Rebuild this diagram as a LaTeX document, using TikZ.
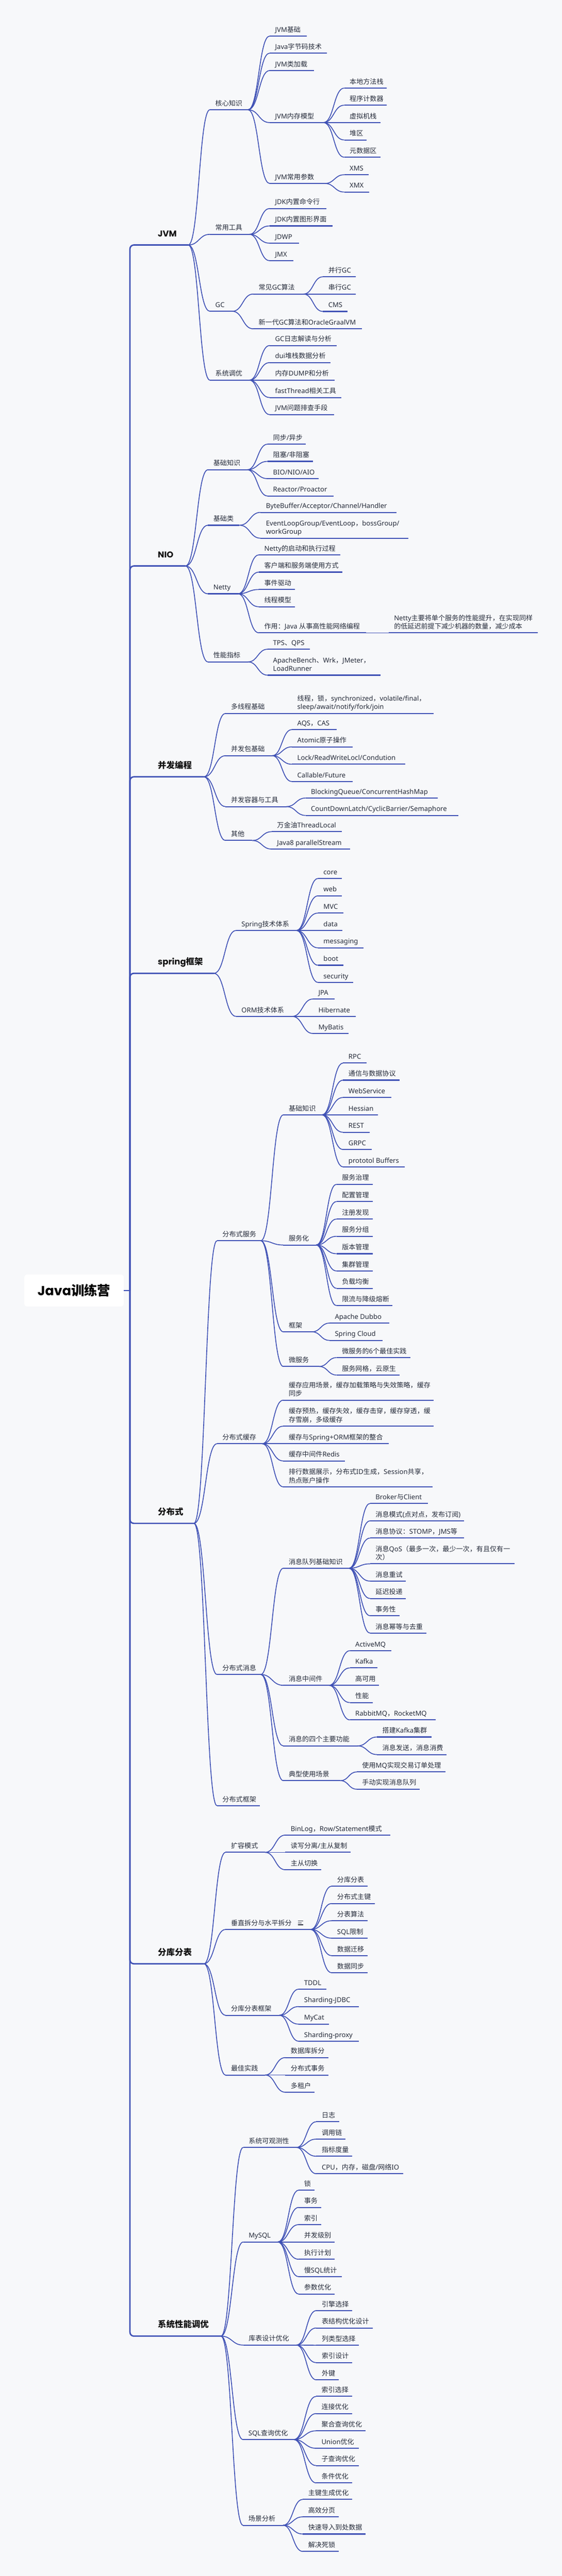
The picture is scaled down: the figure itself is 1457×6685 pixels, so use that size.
\documentclass[tikz,border=0pt]{standalone}
\usepackage{fontspec}
\setmainfont{Noto Sans}
\newfontfamily\cjkf{Noto Sans CJK SC}
\newfontfamily\popf{Poppins}
\newXeTeXintercharclass\MyCJK
\newcount\MyCnt
\MyCnt="3000 \loop \XeTeXcharclass\MyCnt=\MyCJK \advance\MyCnt by 1 \ifnum\MyCnt<"3040 \repeat
\MyCnt="4E00 \loop \XeTeXcharclass\MyCnt=\MyCJK \advance\MyCnt by 1 \ifnum\MyCnt<"A000 \repeat
\MyCnt="FF00 \loop \XeTeXcharclass\MyCnt=\MyCJK \advance\MyCnt by 1 \ifnum\MyCnt<"FFF0 \repeat
\XeTeXinterchartoks 0 \MyCJK = {\cjkf}
\XeTeXinterchartoks 4095 \MyCJK = {\cjkf}
\XeTeXinterchartoks \MyCJK 0 = {\rmfamily}
\XeTeXinterchartoks \MyCJK 4095 = {\rmfamily}
\XeTeXinterchartokenstate=1
\usetikzlibrary{calc}
\definecolor{lc}{HTML}{3F51B5}
\definecolor{tc}{HTML}{252B3A}
\definecolor{tm}{HTML}{111111}
\definecolor{bg}{HTML}{F7F8FA}
\tikzset{
  uline/.style={draw=lc, line width=2.8bp},
  mline/.style={draw=lc, line width=3.6bp},
  conn/.style={draw=lc, line width=2.2bp},
  txt/.style={anchor=base west, inner sep=0pt, text=tc, font=\fontsize{17.5bp}{22bp}\selectfont},
  mtxt/.style={anchor=base west, inner sep=0pt, text=tm, font=\fontsize{22bp}{26bp}\selectfont\bfseries},
  rootbox/.style={fill=white, rounded corners=8bp, minimum width=258bp, minimum height=83bp, inner sep=0pt, text=black, font=\fontsize{34bp}{38bp}\selectfont\bfseries},
}
\newcommand{\MNode}[5]{%
  \coordinate (#1-s) at ({#2-14},{#3});
  \coordinate (#1-e) at ({#4},{#3});
  \draw[uline] (#1-s) -- (#1-e);
  \node[txt] (#1) at ({#2},{#3-10.5}) {#5};}
\newcommand{\MNodeTwo}[6]{%
  \coordinate (#1-s) at ({#2-14},{#3});
  \coordinate (#1-e) at ({#4},{#3});
  \draw[uline] (#1-s) -- (#1-e);
  \node[txt] (#1) at ({#2},{#3-32.5}) {#5};
  \node[txt] (#1-b) at ({#2},{#3-10.5}) {#6};}
\newcommand{\MMain}[4]{%
  \coordinate (#1-s) at (337,{#2});
  \coordinate (#1-e) at ({#3},{#2});
  \draw[mline,rounded corners=10bp] (trunk) -- (#1-s) -- (#1-e);
  \node[mtxt] (#1) at (409.2,{#2-22}) {#4};}
\newcommand{\MConn}[2]{%
  \draw[conn] let \p1=(#1-e), \p2=(#2-s) in (\p1) .. controls ({0.5*\x1+0.5*\x2},\y1) and ({0.5*\x1+0.5*\x2},\y2) .. (\p2);}
\newcommand{\MConns}[2]{\foreach \MC in {#2} {\MConn{#1}{\MC}}}
\begin{document}
\begin{tikzpicture}[x=1bp,y=-1bp]
\fill[bg] (0,0) rectangle (1457,6685);
\useasboundingbox (0,0) rectangle (1457,6685);
% root
\node[rootbox] (root) at (192,3349) {{\popf Java}训练营};
\coordinate (trunk) at (337,3349);
\draw[mline] (root.east) -- (trunk);

% ================= JVM
\MMain{jvm}{635.8}{488.2}{{\popf JVM}}
\MNode{hx}{558.3}{284.8}{643.1}{核心知识}
\MNode{cy}{558.3}{608.1}{646.8}{常用工具}
\MNode{gc}{558.3}{807.8}{602.5}{GC}
\MNode{xtdy}{558.3}{986.5}{646.8}{系统调优}
\MConns{jvm}{hx,cy,gc,xtdy}
\MNode{jb}{713.2}{93.6}{795.9}{JVM基础}
\MNode{jz}{713.2}{138.0}{848.2}{Java字节码技术}
\MNode{jl}{713.2}{183.1}{813.6}{JVM类加载}
\MNode{jn}{713.2}{318.1}{838.7}{JVM内存模型}
\MNode{jc}{713.2}{476.1}{842.3}{JVM常用参数}
\MConns{hx}{jb,jz,jl,jn,jc}
\MNode{bd}{906.5}{228.6}{1003.2}{本地方法栈}
\MNode{cxjs}{906.5}{273.0}{1003.2}{程序计数器}
\MNode{xnjz}{906.5}{318.1}{986.2}{虚拟机栈}
\MNode{dq}{906.5}{363.2}{950.8}{堆区}
\MNode{ysj}{906.5}{408.0}{986.2}{元数据区}
\MConns{jn}{bd,cxjs,xnjz,dq,ysj}
\MNode{xms}{906.5}{453.5}{956.0}{XMS}
\MNode{xmx}{906.5}{498.3}{956.7}{XMX}
\MConns{jc}{xms,xmx}
\MNode{jdka}{713.2}{541.2}{846.0}{JDK内置命令行}
\MNode{jdkb}{713.2}{586.3}{863.0}{JDK内置图形界面}
\MNode{jdwp}{713.2}{631.0}{775.9}{JDWP}
\MNode{jmx}{713.2}{676.5}{761.2}{JMX}
\MConns{cy}{jdka,jdkb,jdwp,jmx}
\MNode{cjgc}{670.4}{763.1}{787.0}{常见GC算法}
\MNode{xyd}{670.4}{853.3}{939.0}{新一代GC算法和OracleGraalVM}
\MConns{gc}{cjgc,xyd}
\MNode{bxgc}{851.2}{718.3}{922.0}{并行GC}
\MNode{cxgc}{851.2}{763.1}{922.0}{串行GC}
\MNode{cms}{851.2}{808.2}{901.4}{CMS}
\MConns{cjgc}{bxgc,cxgc,cms}
\MNode{gcrz}{713.2}{896.6}{872.6}{GC日志解读与分析}
\MNode{dui}{713.2}{941.0}{857.1}{dui堆栈数据分析}
\MNode{dump}{713.2}{986.5}{867.4}{内存DUMP和分析}
\MNode{fast}{713.2}{1031.6}{885.1}{fastThread相关工具}
\MNode{jvmw}{713.2}{1076.0}{866.0}{JVM问题排查手段}
\MConns{xtdy}{gcrz,dui,dump,fast,jvmw}

% ================= NIO
\MMain{nio}{1468.8}{480.8}{{\popf NIO}}
\MNode{jczs}{553.1}{1219.1}{640.9}{基础知识}
\MNode{jcl}{553.1}{1363.0}{621.0}{基础类}
\MNode{netty}{553.1}{1540.9}{617.3}{Netty}
\MNode{xnzb}{553.1}{1717.7}{643.1}{性能指标}
\MConns{nio}{jczs,jcl,netty,xnzb}
\MNode{tb}{708}{1152.6}{792.9}{同步/异步}
\MNode{zs}{708}{1197.3}{811.4}{阻塞/非阻塞}
\MNode{bio}{708}{1242.1}{826.1}{BIO/NIO/AIO}
\MNode{reac}{708}{1287.2}{864.5}{Reactor/Proactor}
\MConns{jczs}{tb,zs,bio,reac}
\MNode{bbuf}{689.6}{1329.7}{1027.5}{ByteBuffer/Acceptor/Channel/Handler}
\MNodeTwo{elg}{689.6}{1396.7}{1058.5}{EventLoopGroup/EventLoop，bossGroup/}{workGroup}
\MConns{jcl}{bbuf,elg}
\MNode{nqd}{685.2}{1440.0}{882.2}{Netty的启动和执行过程}
\MNode{khd}{685.2}{1484.7}{887.4}{客户端和服务端使用方式}
\MNode{sjqd}{685.2}{1529.9}{764.1}{事件驱动}
\MNode{xcmx}{685.2}{1574.6}{764.1}{线程模型}
\MNode{zy}{685.2}{1642.3}{949.0}{作用：Java 从事高性能网络编程}
\MConns{netty}{nqd,khd,sjqd,xcmx,zy}
\MNodeTwo{nzy}{1021.6}{1642.3}{1394.3}{Netty主要将单个服务的性能提升，在实现同样}{的低延迟前提下减少机器的数量，减少成本}
\MConn{zy}{nzy}
\MNode{tps}{708}{1684.8}{804.0}{TPS、QPS}
\MNodeTwo{ab}{708}{1752.1}{986.2}{ApacheBench、Wrk，JMeter，}{LoadRunner}
\MConns{xnzb}{tps,ab}

% ================= 并发编程
\MMain{bf}{2015.9}{528.7}{并发编程}
\MNode{dxc}{598.8}{1851.3}{700.0}{多线程基础}
\MNode{bfb}{598.8}{1961.1}{705.8}{并发包基础}
\MNode{bfrq}{598.8}{2093.2}{742.7}{并发容器与工具}
\MNode{qt}{598.8}{2181.2}{654.2}{其他}
\MConns{bf}{dxc,bfb,bfrq,qt}
\MNodeTwo{xcs}{770.8}{1851.3}{1124.2}{线程，锁，synchronized，volatile/final，}{sleep/await/notify/fork/join}
\MConn{dxc}{xcs}
\MNode{aqs}{770.8}{1893.4}{872.6}{AQS，CAS}
\MNode{atom}{770.8}{1938.2}{913.9}{Atomic原子操作}
\MNode{lock}{770.8}{1983.3}{1051.2}{Lock/ReadWriteLocl/Condution}
\MNode{call}{770.8}{2028.1}{913.9}{Callable/Future}
\MConns{bfb}{aqs,atom,lock,call}
\MNode{bq}{806.2}{2071.0}{1134.6}{BlockingQueue/ConcurrentHashMap}
\MNode{cdl}{806.2}{2116.1}{1188.4}{CountDownLatch/CyclicBarrier/Semaphore}
\MConns{bfrq}{bq,cdl}
\MNode{tl}{718.4}{2158.3}{886.6}{万金油ThreadLocal}
\MNode{ps}{718.4}{2203.4}{908.0}{Java8 parallelStream}
\MConns{qt}{tl,ps}

% ================= spring
\MMain{spr}{2525.9}{554.6}{{\popf spring}框架}
\MNode{sjs}{626.1}{2414.6}{768.6}{Spring技术体系}
\MNode{orm}{626.1}{2637.7}{757.5}{ORM技术体系}
\MConns{spr}{sjs,orm}
\MNode{score}{838.7}{2279.6}{886.6}{core}
\MNode{sweb}{838.7}{2324.7}{886.6}{web}
\MNode{smvc}{838.7}{2369.5}{890.3}{MVC}
\MNode{sdata}{838.7}{2414.6}{888.1}{data}
\MNode{smsg}{838.7}{2459.7}{942.0}{messaging}
\MNode{sboot}{838.7}{2504.9}{890.3}{boot}
\MNode{ssec}{838.7}{2549.6}{916.1}{security}
\MConns{sjs}{score,sweb,smvc,sdata,smsg,sboot,ssec}
\MNode{jpa}{825.4}{2592.5}{867.4}{JPA}
\MNode{hib}{825.4}{2637.7}{922.8}{Hibernate}
\MNode{myb}{825.4}{2682.0}{903.6}{MyBatis}
\MConns{orm}{jpa,hib,myb}

% ================= 分布式
\MMain{fbs}{3953.3}{502.9}{分布式}
\MNode{fwf}{576.7}{3219.8}{676.3}{分布式服务}
\MNode{fhc}{576.7}{3746.6}{680.0}{分布式缓存}
\MNode{fxx}{576.7}{4345.4}{676.3}{分布式消息}
\MNode{fkj}{576.7}{4686.0}{673.4}{分布式框架}
\MConns{fbs}{fwf,fhc,fxx,fkj}
\MNode{fjc}{748.6}{2893.2}{835.0}{基础知识}
\MNode{fwh}{748.6}{3230.9}{820.2}{服务化}
\MNode{fkj2}{748.6}{3456.2}{809.1}{框架}
\MNode{wfw}{748.6}{3546.1}{827.6}{微服务}
\MConns{fwf}{fjc,fwh,fkj2,wfw}
\MNode{rpc}{903.6}{2758.6}{950.8}{RPC}
\MNode{txxy}{903.6}{2803.0}{1035.7}{通信与数据协议}
\MNode{wsv}{903.6}{2848.1}{1014.3}{WebService}
\MNode{hes}{903.6}{2893.2}{980.3}{Hessian}
\MNode{rest}{903.6}{2938.3}{958.2}{REST}
\MNode{grpc}{903.6}{2983.1}{964.1}{GRPC}
\MNode{pbuf}{903.6}{3028.2}{1048.9}{prototol Buffers}
\MConns{fjc}{rpc,txxy,wsv,hes,rest,grpc,pbuf}
\MNode{fwzl}{886.6}{3073.4}{966.3}{服务治理}
\MNode{pzgl}{886.6}{3118.1}{966.3}{配置管理}
\MNode{zcfx}{886.6}{3163.6}{966.3}{注册发现}
\MNode{fwfz}{886.6}{3208.4}{966.3}{服务分组}
\MNode{bbgl}{886.6}{3253.5}{966.3}{版本管理}
\MNode{jqgl}{886.6}{3298.3}{966.3}{集群管理}
\MNode{fzjh}{886.6}{3343.4}{966.3}{负载均衡}
\MNode{xljj}{886.6}{3388.1}{1018.0}{限流与降级熔断}
\MConns{fwh}{fwzl,pzgl,zcfx,fwfz,bbgl,jqgl,fzjh,xljj}
\MNode{dubbo}{868.2}{3433.6}{1009.8}{Apache Dubbo}
\MNode{scl}{868.2}{3478.4}{992.1}{Spring Cloud}
\MConns{fkj2}{dubbo,scl}
\MNode{wfw6}{886.6}{3523.1}{1064.4}{微服务的6个最佳实践}
\MNode{fwwg}{886.6}{3568.3}{1035.7}{服务网格，云原生}
\MConns{wfw}{wfw6,fwwg}
\MNodeTwo{hca}{748.6}{3633.4}{1125.0}{缓存应用场景，缓存加载策略与失效策略，缓存}{同步}
\MNodeTwo{hcb}{748.6}{3701.1}{1125.0}{缓存预热，缓存失效，缓存击穿，缓存穿透，缓}{存雪崩，多级缓存}
\MNode{hcc}{748.6}{3746.6}{1008.4}{缓存与Spring+ORM框架的整合}
\MNode{hcd}{748.6}{3791.3}{894.0}{缓存中间件Redis}
\MNodeTwo{hce}{748.6}{3858.6}{1121.2}{排行数据展示，分布式ID生成，Session共享，}{热点账户操作}
\MConns{fhc}{hca,hcb,hcc,hcd,hce}
\MNode{xxjc}{748.6}{4069.8}{905.1}{消息队列基础知识}
\MNode{xxzj}{748.6}{4373.5}{853.4}{消息中间件}
\MNode{xxgn}{748.6}{4530.7}{927.2}{消息的四个主要功能}
\MNode{dxcj}{748.6}{4620.9}{882.9}{典型使用场景}
\MConns{fxx}{xxjc,xxzj,xxgn,dxcj}
\MNode{brk}{973.7}{3901.5}{1109.5}{Broker与Client}
\MNode{xxms}{973.7}{3946.6}{1203.9}{消息模式(点对点，发布订阅)}
\MNode{xxxy}{973.7}{3991.4}{1203.9}{消息协议：STOMP，JMS等}
\MNodeTwo{qos}{973.7}{4058.3}{1334.5}{消息QoS（最多一次，最少一次，有且仅有一}{次）}
\MNode{xxcs}{973.7}{4103.1}{1052.6}{消息重试}
\MNode{yctd}{973.7}{4148.2}{1052.6}{延迟投递}
\MNode{swx}{973.7}{4193.0}{1035.7}{事务性}
\MNode{mdqc}{973.7}{4238.1}{1105.8}{消息幂等与去重}
\MConns{xxjc}{brk,xxms,xxxy,qos,xxcs,yctd,swx,mdqc}
\MNode{amq}{921.3}{4283.6}{1014.3}{ActiveMQ}
\MNode{kfk}{921.3}{4328.4}{978.9}{Kafka}
\MNode{gky}{921.3}{4373.5}{983.3}{高可用}
\MNode{xn}{921.3}{4418.3}{966.3}{性能}
\MNode{rmq}{921.3}{4463.4}{1129.4}{RabbitMQ，RocketMQ}
\MConns{xxzj}{amq,kfk,gky,xn,rmq}
\MNode{djkf}{991.4}{4507.7}{1119.1}{搭建Kafka集群}
\MNode{xxfs}{991.4}{4553.2}{1158.2}{消息发送，消息消费}
\MConns{xxgn}{djkf,xxfs}
\MNode{symq}{939.0}{4598.4}{1154.5}{使用MQ实现交易订单处理}
\MNode{sdsx}{939.0}{4643.1}{1088.1}{手动实现消息队列}
\MConns{dxcj}{symq,sdsx}

% ================= 分库分表
\MMain{fkfb}{5096.2}{528.7}{分库分表}
\MNode{krms}{598.8}{4807.0}{687.4}{扩容模式}
\MNode{czcf}{598.8}{5007.1}{805.4}{垂直拆分与水平拆分}
\MNode{fkkj}{598.8}{5229.8}{724.3}{分库分表框架}
\MNode{zjsj}{598.8}{5384.8}{687.4}{最佳实践}
\MConns{fkfb}{krms,czcf,fkkj,zjsj}
\draw[tc, line width=1.4bp] (773,4985) -- (786,4985) (773,4990) -- (782,4990) (773,4995) -- (786,4995);
\MNode{binlog}{753.8}{4762.2}{1012.1}{BinLog，Row/Statement模式}
\MNode{dxfl}{753.8}{4807.0}{909.5}{读写分离/主从复制}
\MNode{zcqh}{753.8}{4852.1}{833.5}{主从切换}
\MConns{krms}{binlog,dxfl,zcqh}
\MNode{fkfb2}{874.1}{4894.7}{953.0}{分库分表}
\MNode{fbszj}{874.1}{4939.8}{971.5}{分布式主键}
\MNode{fbsf}{874.1}{4984.5}{953.0}{分表算法}
\MNode{sqlxz}{874.1}{5029.7}{953.0}{SQL限制}
\MNode{sjqy}{874.1}{5075.1}{953.0}{数据迁移}
\MNode{sjtb}{874.1}{5119.5}{953.0}{数据同步}
\MConns{czcf}{fkfb2,fbszj,fbsf,sqlxz,sjqy,sjtb}
\MNode{tddl}{788.5}{5162.1}{846.0}{TDDL}
\MNode{shj}{788.5}{5207.2}{930.9}{Sharding-JDBC}
\MNode{mycat}{788.5}{5252.7}{853.4}{MyCat}
\MNode{shp}{788.5}{5297.1}{930.9}{Sharding-proxy}
\MConns{fkkj}{tddl,shj,mycat,shp}
\MNode{sjkcf}{753.8}{5339.6}{851.2}{数据库拆分}
\MNode{fbssw}{753.8}{5384.8}{851.2}{分布式事务}
\MNode{dzh}{753.8}{5429.5}{815.8}{多租户}
\MConns{zjsj}{sjkcf,fbssw,dzh}

% ================= 系统性能调优
\MMain{xtxn}{6062.4}{573.0}{系统性能调优}
\MNode{kgc}{644.6}{5572.7}{768.6}{系统可观测性}
\MNode{mysql}{644.6}{5818.2}{720.6}{MySQL}
\MNode{kbsj}{644.6}{6085.7}{768.6}{库表设计优化}
\MNode{sqlcx}{644.0}{6330.8}{762.0}{SQL查询优化}
\MNode{cjfx}{644.0}{6553.3}{734.1}{场景分析}
\MConns{xtxn}{kgc,mysql,kbsj,sqlcx,cjfx}
\MNode{rz}{834.2}{5506.1}{879.2}{日志}
\MNode{dyl}{834.2}{5551.2}{896.2}{调用链}
\MNode{zbdl}{834.2}{5595.6}{913.2}{指标度量}
\MNode{cpu}{834.2}{5641.1}{1045.3}{CPU，内存，磁盘/网络IO}
\MConns{kgc}{rz,dyl,zbdl,cpu}
\MNode{suo}{788.5}{5683.6}{815.8}{锁}
\MNode{shiwu}{788.5}{5728.4}{833.5}{事务}
\MNode{suoyin}{788.5}{5773.1}{833.5}{索引}
\MNode{bfjb}{788.5}{5818.2}{868.2}{并发级别}
\MNode{zxjh}{788.5}{5863.0}{868.2}{执行计划}
\MNode{msql}{788.5}{5908.1}{886.6}{慢SQL统计}
\MNode{csyh}{788.5}{5953.3}{868.2}{参数优化}
\MConns{mysql}{suo,shiwu,suoyin,bfjb,zxjh,msql,csyh}
\MNode{yqxz}{834.2}{5996.2}{913.2}{引擎选择}
\MNode{bjg}{834.2}{6041.3}{966.3}{表结构优化设计}
\MNode{llx}{834.2}{6086.1}{930.9}{列类型选择}
\MNode{sysj}{834.2}{6131.2}{913.2}{索引设计}
\MNode{wj}{834.2}{6175.9}{878.5}{外键}
\MConns{kbsj}{yqxz,bjg,llx,sysj,wj}
\MNode{syxz}{833.5}{6218.9}{913.4}{索引选择}
\MNode{ljyh}{833.5}{6263.4}{913.4}{连接优化}
\MNode{jhcx}{833.5}{6308.2}{947.8}{聚合查询优化}
\MNode{union}{833.5}{6353.4}{931.1}{Union优化}
\MNode{zcx}{833.5}{6398.3}{931.1}{子查询优化}
\MNode{tjyh}{833.5}{6443.4}{913.4}{条件优化}
\MConns{sqlcx}{syxz,ljyh,jhcx,union,zcx,tjyh}
\MNode{zjsc}{799.1}{6486.2}{913.4}{主键生成优化}
\MNode{gxfy}{799.1}{6531.4}{878.1}{高效分页}
\MNode{ksdr}{799.1}{6575.9}{947.8}{快速导入到处数据}
\MNode{jjss}{799.1}{6621.1}{878.1}{解决死锁}
\MConns{cjfx}{zjsc,gxfy,ksdr,jjss}
\end{tikzpicture}
\end{document}
